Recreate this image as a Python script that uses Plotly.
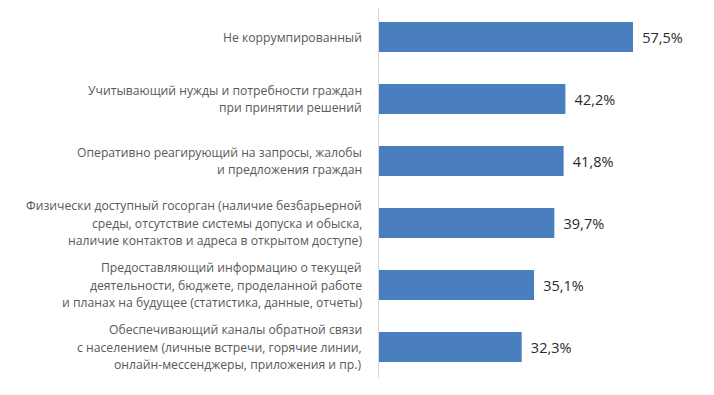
import plotly.graph_objects as go

categories = [
    "Не коррумпированный",
    "Учитывающий нужды и потребности граждан<br>при принятии решений",
    "Оперативно реагирующий на запросы, жалобы<br>и предложения граждан",
    "Физически доступный госорган (наличие безбарьерной<br>среды, отсутствие системы допуска и обыска,<br>наличие контактов и адреса в открытом доступе)",
    "Предоставляющий информацию о текущей<br>деятельности, бюджете, проделанной работе<br>и планах на будущее (статистика, данные, отчеты)",
    "Обеспечивающий каналы обратной связи<br>с населением (личные встречи, горячие линии,<br>онлайн-мессенджеры, приложения и пр.)",
]
values = [57.5, 42.2, 41.8, 39.7, 35.1, 32.3]
value_labels = ["57,5%", "42,2%", "41,8%", "39,7%", "35,1%", "32,3%"]

LINE_H = 17.5

fig = go.Figure(go.Bar(
    x=values,
    y=list(range(len(categories))),
    orientation="h",
    marker=dict(color="#4a7fbf", line=dict(width=0)),
    width=0.485,
    text=["\u00a0\u2009" + t for t in value_labels],
    textposition="outside",
    cliponaxis=False,
    textfont=dict(family="Open Sans", size=14.5, color="#2b2b2b"),
    hoverinfo="skip",
))

annotations = []
for i, cat in enumerate(categories):
    lines = cat.split("<br>")
    n = len(lines)
    for j, line in enumerate(lines):
        annotations.append(dict(
            xref="paper", x=0, xanchor="right", xshift=-15,
            yref="y", y=i, yanchor="middle",
            yshift=((n - 1) / 2 - j) * LINE_H,
            text=line, showarrow=False,
            font=dict(family="Open Sans", size=12.2, color="#595959"),
        ))

# page body has an 8px margin, so the figure is sized/offset to compensate
fig.update_layout(
    width=706,
    height=387,
    margin=dict(l=371, r=14, t=0, b=17, autoexpand=False),
    paper_bgcolor="white",
    plot_bgcolor="white",
    showlegend=False,
    annotations=annotations,
)
fig.update_xaxes(range=[0, 72.67], visible=False, showgrid=False, zeroline=False,
                 automargin=False)
fig.update_yaxes(
    autorange=False,
    range=[5.5, -0.468],
    showline=True,
    linecolor="#d9d9d9",
    linewidth=1,
    showgrid=False,
    ticks="",
    showticklabels=False,
    automargin=False,
)

fig.write_html("out.html")
